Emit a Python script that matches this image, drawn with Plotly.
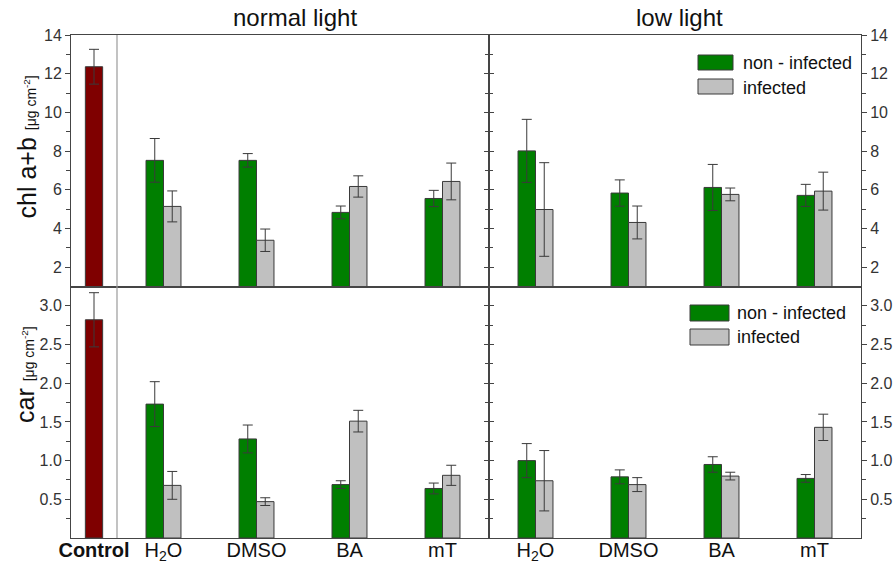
import plotly.graph_objects as go

# ---------------- data ----------------
categories = ["H2O", "DMSO", "BA", "mT"]
category_labels = ["H<sub>2</sub>O", "DMSO", "BA", "mT"]
control_category = ["Control"]
control_label = ["<b>Control</b>"]

chl_control = [12.36]
chl_control_err = [0.90]
chl_normal_non = [7.52, 7.52, 4.83, 5.55]
chl_normal_non_err = [1.13, 0.35, 0.33, 0.42]
chl_normal_inf = [5.14, 3.39, 6.17, 6.43]
chl_normal_inf_err = [0.80, 0.58, 0.55, 0.95]
chl_low_non = [8.01, 5.83, 6.12, 5.71]
chl_low_non_err = [1.63, 0.68, 1.19, 0.57]
chl_low_inf = [4.98, 4.31, 5.76, 5.93]
chl_low_inf_err = [2.42, 0.85, 0.33, 0.98]

car_control = [2.82]
car_control_err = [0.35]
car_normal_non = [1.73, 1.28, 0.69, 0.64]
car_normal_non_err = [0.29, 0.18, 0.05, 0.07]
car_normal_inf = [0.68, 0.47, 1.51, 0.81]
car_normal_inf_err = [0.18, 0.05, 0.14, 0.13]
car_low_non = [1.00, 0.79, 0.95, 0.77]
car_low_non_err = [0.22, 0.09, 0.10, 0.05]
car_low_inf = [0.74, 0.69, 0.80, 1.43]
car_low_inf_err = [0.39, 0.09, 0.05, 0.17]

chl_ticks = [2, 4, 6, 8, 10, 12, 14]
chl_minor = [3, 5, 7, 9, 11, 13]
car_ticks = [0.5, 1.0, 1.5, 2.0, 2.5, 3.0]
car_tick_text = ["0.5", "1.0", "1.5", "2.0", "2.5", "3.0"]
car_minor = [0.25, 0.75, 1.25, 1.75, 2.25, 2.75]

legend_names = ["non - infected", "infected"]

# ---------------- style ----------------
FONT = "Arial, 'Liberation Sans', sans-serif"
GREEN = "#007f00"
GRAY = "#c0c0c0"
RED = "#7f0000"
EDGE = "#3a3a3a"
AXIS = "#454545"
TEXT = "#333333"

W, H = 894, 564
L, R, T, B = 71, 861, 35, 538


def px(x):
    return (x - L) / (R - L)


def py(y):
    return (B - y) / (B - T)


d1 = px(117)
d2 = px(489)

fig = go.Figure()


def bars(x, vals, errs, color, xa, ya, name):
    fig.add_trace(go.Bar(
        x=x, y=vals, name=name,
        marker=dict(color=color, line=dict(color=EDGE, width=1)),
        error_y=dict(type="data", array=errs, color=EDGE, thickness=1, width=5),
        xaxis=xa, yaxis=ya, showlegend=False, hoverinfo="x+y"))


# row 1 : chl a+b
bars(control_category, chl_control, chl_control_err, RED, "x", "y", "Control")
bars(categories, chl_normal_non, chl_normal_non_err, GREEN, "x2", "y2", legend_names[0])
bars(categories, chl_normal_inf, chl_normal_inf_err, GRAY, "x2", "y2", legend_names[1])
bars(categories, chl_low_non, chl_low_non_err, GREEN, "x3", "y3", legend_names[0])
bars(categories, chl_low_inf, chl_low_inf_err, GRAY, "x3", "y3", legend_names[1])
# row 2 : car
bars(control_category, car_control, car_control_err, RED, "x4", "y5", "Control")
bars(categories, car_normal_non, car_normal_non_err, GREEN, "x5", "y6", legend_names[0])
bars(categories, car_normal_inf, car_normal_inf_err, GRAY, "x5", "y6", legend_names[1])
bars(categories, car_low_non, car_low_non_err, GREEN, "x6", "y7", legend_names[0])
bars(categories, car_low_inf, car_low_inf_err, GRAY, "x6", "y7", legend_names[1])

# invisible helpers so the right-hand overlay axes are drawn
for ya, xa in (("y4", "x3"), ("y8", "x6")):
    fig.add_trace(go.Scatter(x=[categories[0]], y=[None], xaxis=xa, yaxis=ya,
                             mode="markers", showlegend=False, hoverinfo="skip"))

tickfont = dict(family=FONT, size=16, color=TEXT)
catfont = dict(family=FONT, size=20, color="#111111")


def xax(domain, anchor, cats, labels=None, show=False):
    d = dict(domain=domain, anchor=anchor, type="category",
             categoryorder="array", categoryarray=cats,
             range=[-0.5, len(cats) - 0.5], automargin=False,
             showline=True, mirror=True, linecolor=AXIS, linewidth=1,
             ticks="", showgrid=False, zeroline=False,
             showticklabels=show, tickfont=catfont, ticklabelstandoff=-6)
    if labels is not None:
        d.update(tickvals=cats, ticktext=labels)
    return d


def yax(domain, anchor, rng, tv, tt, minor, side, ticks, labels, overlay=None):
    d = dict(domain=domain, anchor=anchor, range=rng, side=side, automargin=False,
             tickvals=tv, ticktext=tt, ticks=ticks, ticklen=5, tickwidth=1,
             tickcolor=AXIS, showline=True, linecolor=AXIS, linewidth=1,
             showgrid=False, zeroline=False, showticklabels=labels,
             tickfont=tickfont,
             minor=dict(tickvals=minor, ticks=ticks, ticklen=4, tickcolor=AXIS,
                        tickwidth=1, showgrid=False))
    if overlay:
        d["overlaying"] = overlay
    return d


top = [0.5, 1.0]
bot = [0.0, 0.5]
chl_rng = [1, 14]
car_rng = [0, 3.25]
chl_tt = [str(v) for v in chl_ticks]

layout = dict(
    width=W, height=H,
    margin=dict(l=L, r=W - R, t=T, b=H - B, pad=0, autoexpand=False),
    paper_bgcolor="white", plot_bgcolor="white",
    barmode="group", bargap=0.624, bargroupgap=0.0,
    font=dict(family=FONT, color=TEXT),
    showlegend=False,
    xaxis=xax([0, d1], "y", control_category),
    xaxis2=xax([d1, d2], "y2", categories),
    xaxis3=xax([d2, 1], "y3", categories),
    xaxis4=xax([0, d1], "y5", control_category, control_label, True),
    xaxis5=xax([d1, d2], "y6", categories, category_labels, True),
    xaxis6=xax([d2, 1], "y7", categories, category_labels, True),
    yaxis=yax(top, "x", chl_rng, chl_ticks, chl_tt, chl_minor, "left", "outside", True),
    yaxis2=yax(top, "x2", chl_rng, chl_ticks, chl_tt, chl_minor, "right", "inside", False),
    yaxis3=yax(top, "x3", chl_rng, chl_ticks, chl_tt, chl_minor, "left", "inside", False),
    yaxis4=yax(top, "x3", chl_rng, chl_ticks, chl_tt, chl_minor, "right", "outside", True, "y3"),
    yaxis5=yax(bot, "x4", car_rng, car_ticks, car_tick_text, car_minor, "left", "outside", True),
    yaxis6=yax(bot, "x5", car_rng, car_ticks, car_tick_text, car_minor, "right", "inside", False),
    yaxis7=yax(bot, "x6", car_rng, car_ticks, car_tick_text, car_minor, "left", "inside", False),
    yaxis8=yax(bot, "x6", car_rng, car_ticks, car_tick_text, car_minor, "right", "outside", True, "y7"),
)
fig.update_layout(**layout)

# light divider between Control and treatments
fig.add_shape(type="line", xref="paper", yref="paper", x0=d1, x1=d1, y0=0, y1=1,
              line=dict(color="#9a9a9a", width=1.2))

# panel titles
for xr, txt, dx in (("x2 domain", "normal light", -8), ("x3 domain", "low light", 4)):
    fig.add_annotation(x=0.5, xref=xr, y=1, yref="paper", yanchor="bottom", yshift=2,
                       xshift=dx, text=txt, showarrow=False,
                       font=dict(family=FONT, size=24, color="#111111"))

# y titles
unit = "<span style='font-size:14px'>[μg cm<sup>-2</sup>]</span>"
fig.add_annotation(x=px(26.5), y=py(147), xref="paper", yref="paper", textangle=-90,
                   text="chl a+b " + unit, showarrow=False, xanchor="center", yanchor="middle",
                   font=dict(family=FONT, size=25, color="#111111"))
fig.add_annotation(x=px(25), y=py(375), xref="paper", yref="paper", textangle=-90,
                   text="car " + unit, showarrow=False, xanchor="center", yanchor="middle",
                   font=dict(family=FONT, size=25, color="#111111"))

# legends (drawn as swatches + text)
legend_boxes = [
    (698, 733, 55, 70, 79, 94, 741, 63, 88),
    (690, 729, 305, 321, 329, 345, 735, 313, 337),
]
for (xa, xb, g0, g1, s0, s1, tx, ty1, ty2) in legend_boxes:
    for (y0, y1, col, ty, name) in ((g0, g1, GREEN, ty1, legend_names[0]),
                                    (s0, s1, GRAY, ty2, legend_names[1])):
        fig.add_shape(type="rect", xref="paper", yref="paper",
                      x0=px(xa), x1=px(xb), y0=py(y1), y1=py(y0),
                      fillcolor=col, line=dict(color=EDGE, width=1))
        fig.add_annotation(x=px(tx), y=py(ty), xref="paper", yref="paper",
                           xanchor="left", yanchor="middle", text=name, showarrow=False,
                           font=dict(family=FONT, size=18, color="#111111"))

fig.write_html("out.html", config={"displayModeBar": False},
               post_script="document.body.style.margin='0px';document.body.style.overflow='hidden';")
